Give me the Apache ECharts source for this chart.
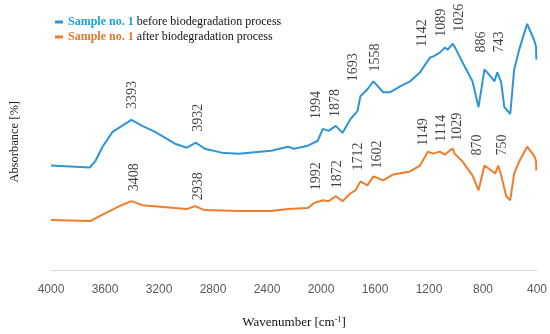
<!DOCTYPE html>
<html>
<head>
<meta charset="utf-8">
<script src="https://cdn.jsdelivr.net/npm/echarts@6/dist/echarts.min.js"></script>
<style>html,body{margin:0;padding:0;background:#fff}#c{width:550px;height:334px}</style>
</head>
<body>
<div id="c"></div>
<script>
// ---- data (absorbance in arbitrary units) ----
const seriesPrefix = 'Sample no. 1';
const seriesSuffix = [' before biodegradation process', ' after biodegradation process'];
const xTicks = [4000, 3600, 3200, 2800, 2400, 2000, 1600, 1200, 800, 400];

const beforeWavenumber = [4000,3713,3669,3618,3544,3405,3324,3229,3082,2993,2927,2861,2736,2611,2369,2244,2200,2097,2024,1987,1943,1891,1840,1781,1730,1708,1656,1612,1539,1487,1414,1340,1267,1193,1171,1120,1083,1061,1024,1010,951,878,833,789,738,716,694,665,642,598,569,532,473,422,407,405];
const beforeAbsorbance = [106,104,111,125,140,152,146,140,128,124,129,123,119,118,121,125,123,126,131,143,141,146,139,153,161,176,183,191,180,180,186,191,200,215,216,220,225,223,229,226,210,191,165,203,195,191,200,190,165,158,203,223,249,233,226,213];

const afterWavenumber = [4000,3706,3640,3493,3405,3324,3082,2993,2935,2861,2611,2369,2244,2097,2053,1987,1943,1891,1840,1781,1744,1708,1656,1612,1539,1465,1340,1267,1208,1171,1120,1083,1047,1024,1010,951,878,833,789,738,709,687,665,628,598,569,532,473,422,407,405];
const afterAbsorbance = [51,50,55,65,70,66,63,62,65,61,60,60,62,63,68,71,70,75,70,78,81,90,86,95,91,97,100,106,120,118,120,117,121,123,118,110,96,81,106,101,98,106,96,75,71,98,110,125,116,111,101];

// peak annotations: [wavenumber position, absorbance position, label]
const beforePeaks = [[3398,163,'3393'],[2905,140,'3932'],[2038,153,'1994'],[1891,155,'1878'],[1759,191,'1693'],[1598,201,'1558'],[1252,226,'1142'],[1105,236,'1089'],[973,241,'1026'],[811,220,'886'],[679,220,'743']];
const afterPeaks = [[3383,80,'3408'],[2905,71,'2938'],[2038,81,'1992'],[1877,83,'1872'],[1722,101,'1712'],[1583,103,'1602'],[1245,126,'1149'],[1105,130,'1114'],[988,131,'1029'],[841,116,'870'],[657,116,'750']];

// ---- chart ----
const names = seriesSuffix.map(s => seriesPrefix + s);
const pairs = (xs, ys) => xs.map((x, i) => [x, ys[i]]);
const serif = '"Liberation Serif", "Times New Roman", serif';
const colors = ['#2f96d4', '#f07d2c'];

const peakLabel = {
  show: true, rotate: 90, position: [0, 0], align: 'left', verticalAlign: 'middle',
  fontFamily: serif, fontSize: 14, color: '#111',
  formatter: p => p.data[2]
};

const chart = echarts.init(document.getElementById('c'), null, {renderer: 'canvas'});
chart.setOption({
  animation: false,
  grid: {left: 48, right: 12, top: 13, bottom: 61},
  legend: {
    data: names, orient: 'vertical', left: 50, top: 10, itemGap: 1,
    icon: 'rect', itemWidth: 8, itemHeight: 3,
    textStyle: {
      fontFamily: serif, fontSize: 12, color: '#111', lineHeight: 14,
      rich: {
        b0: {fontFamily: serif, fontSize: 12, fontWeight: 'bold', color: '#1ea3d8'},
        b1: {fontFamily: serif, fontSize: 12, fontWeight: 'bold', color: '#e8772a'},
        t: {fontFamily: serif, fontSize: 12, color: '#111'}
      }
    },
    formatter: n => {
      const i = names.indexOf(n);
      return '{b' + i + '|' + seriesPrefix + '}{t|' + seriesSuffix[i] + '}';
    }
  },
  xAxis: {
    type: 'value', inverse: true, min: 400, max: 4000, interval: 400,
    axisLine: {show: true, lineStyle: {color: '#d9d9d9', width: 1}},
    axisTick: {show: false}, splitLine: {show: false},
    axisLabel: {margin: 13, fontFamily: '"Liberation Sans", Arial, sans-serif', fontSize: 12, color: '#595959',
      formatter: v => xTicks.includes(v) ? String(v) : ''},
    name: '{a|Wavenumber [cm}{s|-1}{a|]}', nameLocation: 'middle', nameGap: 45,
    nameTextStyle: {rich: {
      a: {fontFamily: serif, fontSize: 13, color: '#111'},
      s: {fontFamily: serif, fontSize: 8, color: '#111', verticalAlign: 'top', padding: [0,0,6,0]}
    }}
  },
  yAxis: {
    type: 'value', min: 0, max: 260,
    axisLine: {show: false}, axisTick: {show: false}, axisLabel: {show: false}, splitLine: {show: false},
    name: 'Absorbance [%]', nameLocation: 'middle', nameGap: 30,
    nameTextStyle: {fontFamily: serif, fontSize: 12.5, color: '#222'}
  },
  series: [
    {name: names[0], type: 'line', data: pairs(beforeWavenumber, beforeAbsorbance), showSymbol: false, symbol: 'none',
     lineStyle: {color: colors[0], width: 2}, itemStyle: {color: colors[0]}},
    {name: names[1], type: 'line', data: pairs(afterWavenumber, afterAbsorbance), showSymbol: false, symbol: 'none',
     lineStyle: {color: colors[1], width: 2}, itemStyle: {color: colors[1]}},
    {type: 'scatter', data: beforePeaks, symbolSize: 0, label: peakLabel, silent: true},
    {type: 'scatter', data: afterPeaks, symbolSize: 0, label: peakLabel, silent: true}
  ]
});
</script>
</body>
</html>
